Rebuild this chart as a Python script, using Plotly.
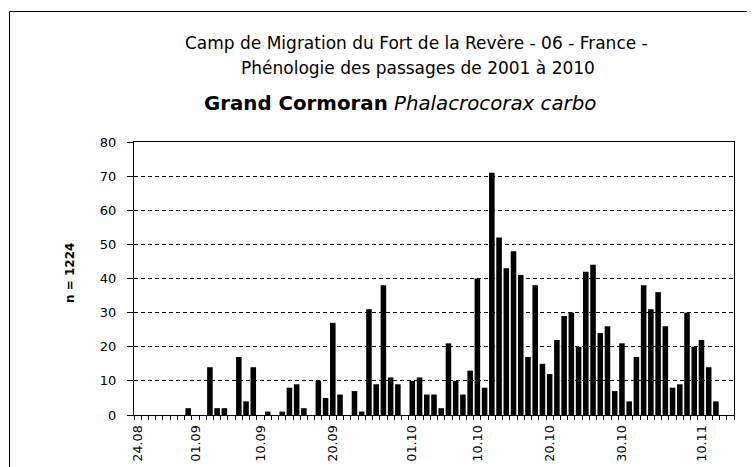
import plotly.graph_objects as go

dates = [
    "24.08", "25.08", "26.08", "27.08", "28.08", "29.08", "30.08", "31.08",
    "01.09", "02.09", "03.09", "04.09", "05.09", "06.09", "07.09", "08.09", "09.09", "10.09",
    "11.09", "12.09", "13.09", "14.09", "15.09", "16.09", "17.09", "18.09", "19.09", "20.09",
    "21.09", "22.09", "23.09", "24.09", "25.09", "26.09", "27.09", "28.09", "29.09", "30.09",
    "01.10", "02.10", "03.10", "04.10", "05.10", "06.10", "07.10", "08.10", "09.10", "10.10",
    "11.10", "12.10", "13.10", "14.10", "15.10", "16.10", "17.10", "18.10", "19.10", "20.10",
    "21.10", "22.10", "23.10", "24.10", "25.10", "26.10", "27.10", "28.10", "29.10", "30.10",
    "31.10", "01.11", "02.11", "03.11", "04.11", "05.11", "06.11", "07.11", "08.11", "09.11",
    "10.11", "11.11", "12.11", "13.11", "14.11",
]

counts = [
    0, 0, 0, 0, 0, 0, 0, 2,
    0, 0, 14, 2, 2, 0, 17, 4, 14, 0,
    1, 0, 1, 8, 9, 2, 0, 10, 5, 27,
    6, 0, 7, 1, 31, 9, 38, 11, 9, 0,
    10, 11, 6, 6, 2, 21, 10, 6, 13, 40,
    8, 71, 52, 43, 48, 41, 17, 38, 15, 12,
    22, 29, 30, 20, 42, 44, 24, 26, 7, 21,
    4, 17, 38, 31, 36, 26, 8, 9, 30, 20,
    22, 14, 4, 0, 0,
]

shown_labels = ["24.08", "01.09", "10.09", "20.09", "01.10", "10.10", "20.10", "30.10", "10.11"]
y_ticks = [0, 10, 20, 30, 40, 50, 60, 70, 80]

title_line1 = "Camp de Migration du Fort de la Revère - 06 - France -"
title_line2 = "Phénologie des passages de 2001 à 2010"
species_common = "Grand Cormoran"
species_latin = "Phalacrocorax carbo"
n_label = "n = " + str(sum(counts))

FONT = "DejaVu Sans, Verdana, sans-serif"

fig = go.Figure()
fig.add_trace(go.Bar(
    x=dates, y=counts,
    marker=dict(color="black", line=dict(width=0)),
    hoverinfo="x+y",
))

# page body has an 8px margin; figure coordinates = page coordinates - OFF
OFF = 8
W, H = 747, 459
L, T = 134 - OFF, 142 - OFF
pw, ph = 600, 273
R, B = W - L - pw, H - T - ph


def px(xpage):
    return (xpage - OFF - L) / pw


def py(ypage):
    return (T + ph - (ypage - OFF)) / ph


fig.update_layout(
    width=W, height=H,
    margin=dict(l=L, r=R, t=T, b=B, pad=0, autoexpand=False),
    paper_bgcolor="white", plot_bgcolor="white",
    bargap=0.23,
    showlegend=False,
    font=dict(family=FONT, size=13, color="black"),
    xaxis=dict(
        type="category",
        categoryorder="array", categoryarray=dates,
        tickmode="array", tickvals=dates,
        ticktext=[d if d in shown_labels else "" for d in dates],
        tickson="boundaries",
        ticks="outside", ticklen=4, tickwidth=1, tickcolor="black",
        tickangle=-90,
        tickfont=dict(family=FONT, size=12.8, color="black"),
        ticklabelstandoff=4,
        automargin=False,
        showgrid=False, zeroline=False,
        showline=True, linecolor="black", linewidth=1, mirror=True,
        range=[-0.5, len(dates) - 0.5],
    ),
    yaxis=dict(
        range=[0, 80], tickmode="array", tickvals=y_ticks,
        ticks="outside", ticklen=6, tickwidth=1, tickcolor="black",
        tickfont=dict(family=FONT, size=13, color="black"),
        showgrid=True, gridcolor="black", gridwidth=1, griddash="4px,3px",
        zeroline=False, automargin=False,
        showline=True, linecolor="black", linewidth=1, mirror=True,
        ticklabelstandoff=8,
    ),
)

fig.add_annotation(text=title_line1, xref="paper", yref="paper",
                   x=px(416.5), y=py(43), xanchor="center", yanchor="middle",
                   showarrow=False, font=dict(family=FONT, size=17, color="black"))
fig.add_annotation(text=title_line2, xref="paper", yref="paper",
                   x=px(417.5), y=py(68), xanchor="center", yanchor="middle",
                   showarrow=False, font=dict(family=FONT, size=17, color="black"))
fig.add_annotation(text="<b>" + species_common + "</b> <i>" + species_latin + "</i>",
                   xref="paper", yref="paper",
                   x=px(399.5), y=py(103), xanchor="center", yanchor="middle",
                   showarrow=False, font=dict(family=FONT, size=19.8, color="black"))
fig.add_annotation(text="<b>" + n_label + "</b>", xref="paper", yref="paper",
                   x=px(70), y=py(273), xanchor="center", yanchor="middle",
                   textangle=-90, showarrow=False,
                   font=dict(family=FONT, size=12, color="black"))

# outer chart frame (top and left edges visible)
fig.add_shape(type="line", xref="paper", yref="paper",
              x0=px(9.5), y0=py(11.5), x1=px(760), y1=py(11.5),
              line=dict(color="black", width=1))
fig.add_shape(type="line", xref="paper", yref="paper",
              x0=px(9.5), y0=py(11.5), x1=px(9.5), y1=py(470),
              line=dict(color="black", width=1))

fig.write_html("out.html")
